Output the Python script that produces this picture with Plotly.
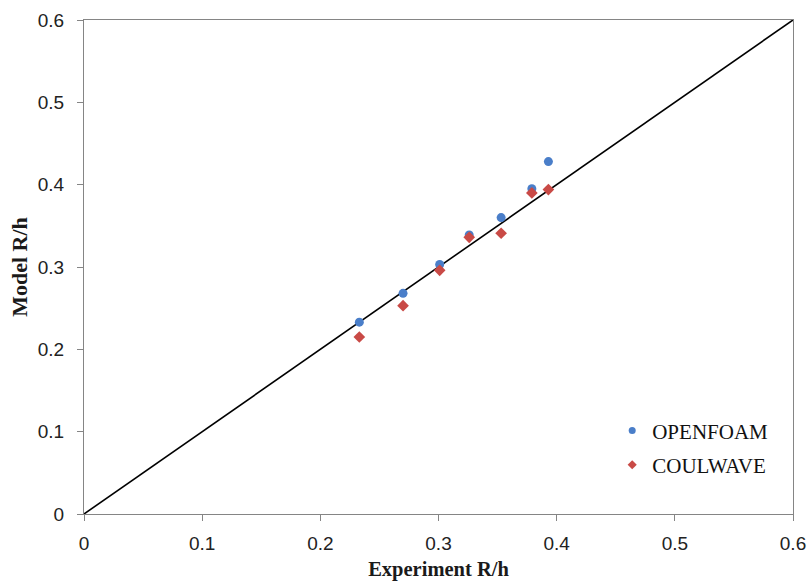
import plotly.graph_objects as go

# Measured run-up ratios R/h against model predictions
experiment = [0.233, 0.270, 0.301, 0.326, 0.353, 0.379, 0.393]
openfoam = [0.233, 0.268, 0.303, 0.339, 0.360, 0.395, 0.428]
coulwave = [0.215, 0.253, 0.296, 0.336, 0.341, 0.390, 0.394]
ticks = [0, 0.1, 0.2, 0.3, 0.4, 0.5, 0.6]
tick_text = ["0", "0.1", "0.2", "0.3", "0.4", "0.5", "0.6"]
parity = [0, 0.6]

BLUE = "#4A7EC9"
RED = "#C94A46"

fig = go.Figure()
fig.add_trace(go.Scatter(x=parity, y=parity, mode="lines",
                         line=dict(color="black", width=1.6),
                         showlegend=False, hoverinfo="skip"))
fig.add_trace(go.Scatter(x=experiment, y=openfoam, mode="markers", name="OPENFOAM",
                         marker=dict(symbol="circle", size=9, color=BLUE),
                         showlegend=False))
fig.add_trace(go.Scatter(x=experiment, y=coulwave, mode="markers", name="COULWAVE",
                         marker=dict(symbol="diamond", size=9, color=RED),
                         showlegend=False))
# legend entries with the smaller legend symbols
fig.add_trace(go.Scatter(x=[None], y=[None], mode="markers", name="OPENFOAM",
                         legendgroup="a",
                         marker=dict(symbol="circle", size=7, color=BLUE)))
fig.add_trace(go.Scatter(x=[None], y=[None], mode="markers", name="COULWAVE",
                         legendgroup="b",
                         marker=dict(symbol="diamond", size=7, color=RED)))

axis_common = dict(
    range=[0, 0.6], tickvals=ticks, ticktext=tick_text,
    showgrid=False, zeroline=False, automargin=False,
    showline=True, linecolor="#858585", linewidth=1, mirror=True,
    ticks="outside", ticklen=6, tickcolor="#858585", tickwidth=1,
    tickfont=dict(family="Liberation Sans, Arial", size=19, color="#222222"),
)
title_font = dict(family="Liberation Serif, Times New Roman", color="#1a1a1a")

fig.update_layout(
    width=810, height=581,
    margin=dict(l=84, r=17, t=20, b=67),
    paper_bgcolor="white", plot_bgcolor="white",
    xaxis=dict(**axis_common, ticklabelstandoff=6,
               title=dict(text="<b>Experiment R/h</b>", standoff=10,
                          font=dict(**title_font, size=20.5))),
    yaxis=dict(**axis_common, ticklabelstandoff=9,
               title=dict(text="<b>Model R/h</b>", standoff=4,
                          font=dict(**title_font, size=22))),
    legend=dict(x=0.745, y=0.21, xanchor="left", yanchor="top",
                bgcolor="rgba(0,0,0,0)", tracegroupgap=4, itemwidth=30,
                font=dict(family="Liberation Serif, Times New Roman", size=21, color="#111111")),
)

fig.write_html("out.html")
